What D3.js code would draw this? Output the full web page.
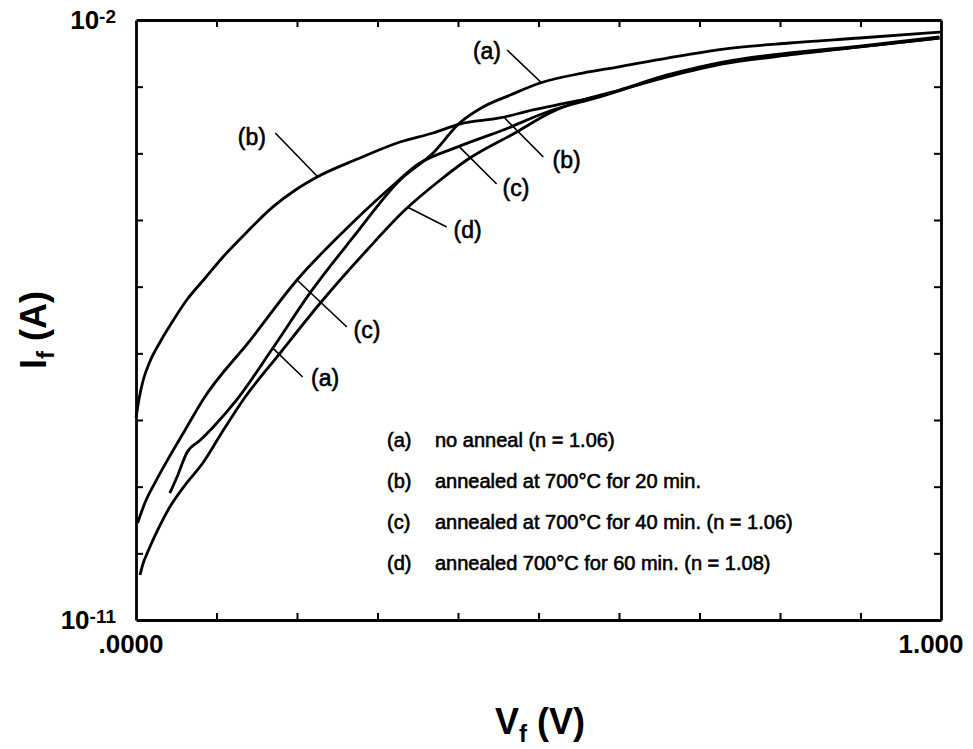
<!DOCTYPE html>
<html>
<head>
<meta charset="utf-8">
<script src="https://cdn.jsdelivr.net/npm/d3@7"></script>
<style>
  body { margin: 0; background: #fff; }
  svg text { font-family: 'Liberation Sans', Arial, Helvetica, sans-serif; fill: #000; }
</style>
</head>
<body>
<div class="chart"></div>
<script>
/* global d3 */
'use strict'

// forward voltage (V) / forward current (A)
var voltsA = [0.042, 0.052, 0.063, 0.080, 0.096, 0.125, 0.170, 0.216, 0.270, 0.328, 0.369, 0.402, 0.431, 0.465, 0.502, 0.555, 0.598, 0.660, 0.730, 0.812, 0.899, 0.999]
var currentA = [8.0e-10, 1.5e-9, 3.2e-9, 5.0e-9, 7.85e-9, 2.0e-8, 1.2e-7, 8.0e-7, 5.56e-6, 3.98e-5, 1.01e-4, 2.85e-4, 4.95e-4, 7.5e-4, 1.135e-3, 1.6e-3, 1.97e-3, 2.69e-3, 3.67e-3, 4.52e-3, 5.37e-3, 6.6e-3]

var voltsB = [0.000, 0.004, 0.009, 0.017, 0.030, 0.045, 0.063, 0.086, 0.108, 0.139, 0.170, 0.198, 0.225, 0.275, 0.328, 0.369, 0.402, 0.452, 0.493, 0.535, 0.576, 0.660, 0.729, 0.812, 0.899, 0.998]
var currentB = [1.07e-8, 2.14e-8, 3.98e-8, 7.4e-8, 1.48e-7, 2.95e-7, 6.3e-7, 1.35e-6, 2.79e-6, 6.84e-6, 1.57e-5, 2.82e-5, 4.42e-5, 8.2e-5, 1.48e-4, 2.02e-4, 2.75e-4, 3.39e-4, 4.47e-4, 5.69e-4, 7.24e-4, 1.5e-3, 2.34e-3, 3.2e-3, 4.07e-3, 5.56e-3]

var voltsC = [0.002, 0.011, 0.024, 0.042, 0.061, 0.083, 0.142, 0.200, 0.266, 0.324, 0.349, 0.399, 0.456, 0.514, 0.576, 0.660, 0.729, 0.812, 0.899, 0.998]
var currentC = [2.85e-10, 5.69e-10, 1.17e-9, 2.88e-9, 7.08e-9, 2.0e-8, 1.58e-7, 1.26e-6, 8.41e-6, 3.72e-5, 6.68e-5, 1.24e-4, 2.24e-4, 4.32e-4, 7.0e-4, 1.45e-3, 2.26e-3, 3.09e-3, 3.94e-3, 5.37e-3]

var voltsD = [0.005, 0.009, 0.014, 0.027, 0.042, 0.061, 0.083, 0.104, 0.133, 0.179, 0.229, 0.287, 0.334, 0.378, 0.411, 0.473, 0.514, 0.555, 0.601, 0.660, 0.729, 0.812, 0.899, 0.998]
var currentD = [4.73e-11, 7.16e-11, 1.01e-10, 2.24e-10, 4.95e-10, 1.06e-9, 2.26e-9, 5.75e-9, 2.0e-8, 1.01e-7, 5.69e-7, 3.55e-6, 1.41e-5, 3.98e-5, 7.94e-5, 2.09e-4, 4.03e-4, 6.31e-4, 8.91e-4, 1.4e-3, 2.19e-3, 2.99e-3, 3.94e-3, 5.37e-3]

var legendKeys = ['(a)', '(b)', '(c)', '(d)']
var legendTexts = [
  'no anneal (n = 1.06)',
  'annealed at 700°C for 20 min.',
  'annealed at 700°C for 40 min. (n = 1.06)',
  'annealed 700°C for 60 min. (n = 1.08)'
]

var xTickLabels = ['.0000', '1.000']
var xTickLabelValues = [0, 1]
var yTickLabelValues = [1e-2, 1e-11]
var yTickExponents = ['-2', '-11']

// curve callouts: label, label position, leader start, leader end (on the curve)
var calloutLabels = ['(a)', '(b)', '(b)', '(c)', '(d)', '(c)', '(a)']
var calloutTextV = [0.436, 0.144, 0.535, 0.472, 0.412, 0.287, 0.235]
var calloutTextI = [3.43e-3, 1.76e-4, 7.94e-5, 3.02e-5, 7.08e-6, 2.24e-7, 4.27e-8]
var calloutFromV = [0.461, 0.173, 0.506, 0.448, 0.386, 0.262, 0.207]
var calloutFromI = [3.55e-3, 2.02e-4, 8.81e-5, 3.47e-5, 7.85e-6, 2.48e-7, 4.42e-8]
var calloutToV = [0.504, 0.226, 0.458, 0.402, 0.337, 0.200, 0.170]
var calloutToI = [1.135e-3, 4.42e-5, 3.39e-4, 1.24e-4, 1.57e-5, 1.26e-6, 1.2e-7]

var width = 973
var height = 749
var plotLeft = 136
var plotRight = 941
var plotTop = 20
var plotBottom = 620

var x = d3.scaleLinear().domain([0, 1]).range([plotLeft, plotRight])
var y = d3.scaleLog().domain([1e-11, 1e-2]).range([plotBottom, plotTop])

var svg = d3.select('.chart').append('svg')
  .attr('width', width)
  .attr('height', height)

// frame with inward ticks on all four sides
var xTicks = d3.range(1, 10).map(function (k) { return k / 10 })
var yTicks = d3.range(-10, -2).map(function (k) { return Math.pow(10, k) })

var styleAxis = function (g) {
  g.select('.domain').attr('stroke', '#000').attr('stroke-width', 2.8)
  g.selectAll('.tick line').attr('stroke', '#000').attr('stroke-width', 2)
  g.selectAll('.tick text').remove()
}

svg.append('g').attr('transform', 'translate(0,' + plotBottom + ')')
  .call(d3.axisBottom(x).tickValues(xTicks).tickSizeInner(-7).tickSizeOuter(0).tickFormat(''))
  .call(styleAxis)
svg.append('g').attr('transform', 'translate(0,' + plotTop + ')')
  .call(d3.axisTop(x).tickValues(xTicks).tickSizeInner(-7).tickSizeOuter(0).tickFormat(''))
  .call(styleAxis)
svg.append('g').attr('transform', 'translate(' + plotLeft + ',0)')
  .call(d3.axisLeft(y).tickValues(yTicks).tickSizeInner(-7).tickSizeOuter(0).tickFormat(''))
  .call(styleAxis)
svg.append('g').attr('transform', 'translate(' + plotRight + ',0)')
  .call(d3.axisRight(y).tickValues(yTicks).tickSizeInner(-7).tickSizeOuter(0).tickFormat(''))
  .call(styleAxis)

// tick labels
svg.selectAll('.xlabel')
  .data(xTickLabelValues)
  .enter().append('text')
  .attr('class', 'xlabel')
  .attr('x', function (d) { return x(d) - 5 - d * 5 })
  .attr('y', plotBottom + 33)
  .attr('text-anchor', 'middle')
  .style('font-size', '26px')
  .style('font-weight', 'bold')
  .text(function (d, i) { return xTickLabels[i] })

var ylabels = svg.selectAll('.ylabel')
  .data(yTickLabelValues)
  .enter().append('text')
  .attr('class', 'ylabel')
  .attr('x', plotLeft - 20)
  .attr('y', function (d) { return y(d) + 9 })
  .attr('text-anchor', 'end')
  .style('font-size', '26px')
  .style('font-weight', 'bold')
ylabels.append('tspan').text('10')
ylabels.append('tspan')
  .attr('dy', -6)
  .style('font-size', '19px')
  .text(function (d, i) { return yTickExponents[i] })

// axis titles
var ytitle = svg.append('text')
  .attr('transform', 'translate(46,330)rotate(-90)')
  .attr('text-anchor', 'middle')
  .style('font-size', '36px')
  .style('font-weight', 'bold')
ytitle.append('tspan').text('I')
ytitle.append('tspan').attr('dy', 8).style('font-size', '24px').text('f')
ytitle.append('tspan').attr('dy', -8).text(' (A)')

var xtitle = svg.append('text')
  .attr('x', 540)
  .attr('y', 734)
  .attr('text-anchor', 'middle')
  .style('font-size', '36px')
  .style('font-weight', 'bold')
xtitle.append('tspan').text('V')
xtitle.append('tspan').attr('dy', 8).style('font-size', '24px').text('f')
xtitle.append('tspan').attr('dy', -8).text(' (V)')

// curves
var line = d3.line()
  .x(function (d) { return x(d[0]) })
  .y(function (d) { return y(d[1]) })
  .curve(d3.curveMonotoneX)

var series = [
  d3.zip(voltsA, currentA),
  d3.zip(voltsB, currentB),
  d3.zip(voltsC, currentC),
  d3.zip(voltsD, currentD)
]

svg.append('g').selectAll('path')
  .data(series)
  .enter().append('path')
  .attr('d', line)
  .attr('fill', 'none')
  .attr('stroke', '#000')
  .attr('stroke-width', 2.8)
  .attr('stroke-linejoin', 'round')

// callouts
var callouts = svg.append('g')
callouts.selectAll('line')
  .data(calloutLabels)
  .enter().append('line')
  .attr('x1', function (d, i) { return x(calloutFromV[i]) })
  .attr('y1', function (d, i) { return y(calloutFromI[i]) })
  .attr('x2', function (d, i) { return x(calloutToV[i]) })
  .attr('y2', function (d, i) { return y(calloutToI[i]) })
  .attr('stroke', '#000')
  .attr('stroke-width', 1.6)
callouts.selectAll('text')
  .data(calloutLabels)
  .enter().append('text')
  .attr('x', function (d, i) { return x(calloutTextV[i]) })
  .attr('y', function (d, i) { return y(calloutTextI[i]) + 8 })
  .attr('text-anchor', 'middle')
  .style('font-size', '23px')
  .style('stroke', '#000')
  .style('stroke-width', 0.6)
  .text(function (d) { return d })

// legend block inside the plot
var legend = svg.append('g').attr('transform', 'translate(387,447)')
var rows = legend.selectAll('g')
  .data(legendKeys)
  .enter().append('g')
  .attr('transform', function (d, i) { return 'translate(0,' + (i * 41) + ')' })
rows.append('text')
  .style('font-size', '20px')
  .style('stroke', '#000')
  .style('stroke-width', 0.6)
  .text(function (d) { return d })
rows.append('text')
  .attr('x', 48)
  .style('font-size', '20px')
  .style('stroke', '#000')
  .style('stroke-width', 0.6)
  .text(function (d, i) { return legendTexts[i] })
</script>
</body>
</html>
